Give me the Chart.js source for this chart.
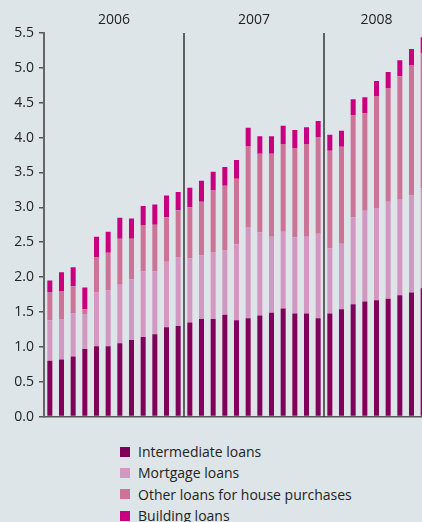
<!DOCTYPE html>
<html>
<head>
<meta charset="utf-8">
<script src="https://cdn.jsdelivr.net/npm/chart.js@4/dist/chart.umd.min.js"></script>
<style>
  html, body { margin: 0; padding: 0; background: #dee5e8; overflow: hidden; }
  body { width: 422px; height: 522px; position: relative; font-family: "Open Sans", sans-serif; }
  #chart { position: absolute; left: 0; top: 0; }
  #legend { position: absolute; left: 120px; top: 441px; color: #222; font-size: 14px; }
  .item { display: flex; align-items: center; height: 21.3px; white-space: nowrap; }
  .swatch { width: 10px; height: 10px; margin-right: 8px; }
</style>
</head>
<body>
<canvas id="chart" width="470" height="430"></canvas>
<div id="legend"></div>
<script>
// Monthly lending, 2006 - Sep 2008 (per cent)
const years = ['2006', '2007', '2008'];
const months = ['Jan', 'Feb', 'Mar', 'Apr', 'May', 'Jun', 'Jul', 'Aug', 'Sep', 'Oct', 'Nov', 'Dec'];

const intermediate = [0.80, 0.82, 0.86, 0.97, 1.01, 1.01, 1.05, 1.10, 1.14, 1.18, 1.28, 1.30,
                      1.35, 1.40, 1.40, 1.46, 1.38, 1.41, 1.45, 1.49, 1.55, 1.48, 1.48, 1.41,
                      1.48, 1.54, 1.61, 1.65, 1.67, 1.69, 1.74, 1.78, 1.84];
const mortgage     = [0.58, 0.58, 0.62, 0.50, 0.77, 0.80, 0.84, 0.87, 0.94, 0.90, 0.94, 0.99,
                      0.92, 0.91, 0.96, 0.92, 1.09, 1.31, 1.19, 1.09, 1.10, 1.09, 1.10, 1.21,
                      0.93, 0.94, 1.25, 1.30, 1.32, 1.39, 1.37, 1.39, 1.43];
const otherHouse   = [0.40, 0.40, 0.39, 0.07, 0.50, 0.54, 0.66, 0.58, 0.66, 0.67, 0.64, 0.67,
                      0.73, 0.77, 0.88, 0.93, 0.94, 1.16, 1.13, 1.19, 1.26, 1.28, 1.33, 1.39,
                      1.40, 1.39, 1.46, 1.40, 1.60, 1.63, 1.77, 1.87, 1.94];
const building     = [0.17, 0.27, 0.27, 0.31, 0.30, 0.30, 0.30, 0.29, 0.28, 0.29, 0.31, 0.26,
                      0.28, 0.30, 0.27, 0.27, 0.27, 0.26, 0.25, 0.25, 0.26, 0.26, 0.24, 0.23,
                      0.23, 0.23, 0.23, 0.23, 0.22, 0.23, 0.23, 0.23, 0.23];

const yTicks = [0, 0.5, 1, 1.5, 2, 2.5, 3, 3.5, 4, 4.5, 5, 5.5];

const series = [
  { label: 'Intermediate loans', data: intermediate, color: '#80005a' },
  { label: 'Mortgage loans', data: mortgage, color: '#d398c2' },
  { label: 'Other loans for house purchases', data: otherHouse, color: '#cc7498' },
  { label: 'Building loans', data: building, color: '#c8007f' }
];

const labels = [];
years.forEach(y => months.forEach(m => labels.push(m + ' ' + y)));

// year captions above the plot and the dividers between years
const yearBands = {
  id: 'yearBands',
  afterDatasetsDraw(chart) {
    const { ctx, chartArea, scales: { x } } = chart;
    const step = x.getPixelForValue(1) - x.getPixelForValue(0);
    ctx.save();
    ctx.font = '14px "Open Sans", sans-serif';
    ctx.fillStyle = '#222';
    ctx.textAlign = 'center';
    ctx.textBaseline = 'middle';
    ctx.strokeStyle = '#1a1a1a';
    ctx.lineWidth = 1.3;
    years.forEach((yr, i) => {
      const start = x.getPixelForValue(i * 12) - step / 2;
      const n = Math.min(12, intermediate.length - i * 12);
      ctx.fillText(yr, start + step * n / 2, 20);
      if (i > 0) {
        ctx.beginPath();
        ctx.moveTo(start, chartArea.top);
        ctx.lineTo(start, chartArea.bottom);
        ctx.stroke();
      }
    });
    ctx.restore();
  }
};

new Chart(document.getElementById('chart'), {
  type: 'bar',
  data: {
    labels: labels,
    datasets: series.map(s => ({
      label: s.label,
      data: s.data,
      backgroundColor: s.color,
      borderWidth: 0,
      barPercentage: 0.43,
      categoryPercentage: 1
    }))
  },
  options: {
    responsive: false,
    animation: false,
    layout: { padding: { top: 33, right: 6, left: 0, bottom: 0 } },
    plugins: { legend: { display: false }, tooltip: { enabled: false } },
    scales: {
      x: {
        stacked: true,
        grid: { display: false },
        ticks: { display: false },
        border: { color: '#555', width: 1.6 },
        afterFit: s => { s.height = 12; }
      },
      y: {
        stacked: true,
        min: 0,
        max: 5.5,
        afterBuildTicks: s => { s.ticks = yTicks.map(v => ({ value: v })); },
        ticks: {
          color: '#222',
          padding: 5,
          font: { family: '"Open Sans", sans-serif', size: 14 },
          callback: v => v.toFixed(1)
        },
        grid: { drawOnChartArea: false, tickLength: 5, color: '#555', lineWidth: 1.5 },
        border: { color: '#666', width: 2 },
        afterFit: s => { s.width = 44; }
      }
    }
  },
  plugins: [yearBands]
});

// legend, one entry per row
const legend = document.getElementById('legend');
series.forEach(s => {
  const row = document.createElement('div');
  row.className = 'item';
  row.innerHTML = `<span class="swatch" style="background:${s.color}"></span><span>${s.label}</span>`;
  legend.appendChild(row);
});
</script>
</body>
</html>
